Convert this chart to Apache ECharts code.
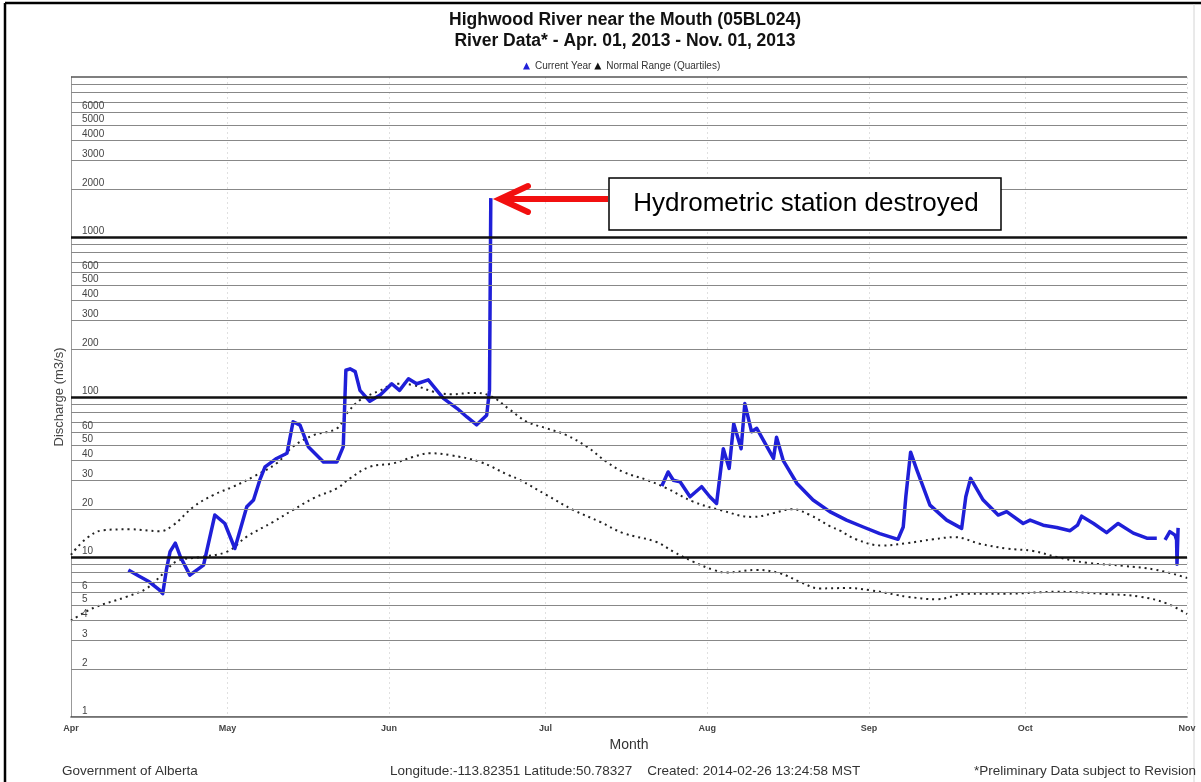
<!DOCTYPE html>
<html>
<head>
<meta charset="utf-8">
<script src="https://cdn.jsdelivr.net/npm/echarts@6/dist/echarts.min.js"></script>
<style>
  html, body { margin: 0; padding: 0; background: #fff; }
  #main { width: 1201px; height: 782px; }
</style>
</head>
<body>
<div id="main"></div>
<script>
// current year discharge (m3/s); '-' breaks the line
var currentYear = [
  ['2013-04-12', 8.3], ['2013-04-14', 7.6], ['2013-04-16', 7.0], ['2013-04-18', 6.2],
  ['2013-04-18 14:00', 5.9], ['2013-04-19 07:00', 8.3], ['2013-04-20', 10.8], ['2013-04-21', 12.2],
  ['2013-04-22', 10.0], ['2013-04-23 19:00', 7.7], ['2013-04-26 10:00', 8.9], ['2013-04-28 14:00', 18.3],
  ['2013-04-30 12:00', 16.2], ['2013-05-02 10:00', 11.3], ['2013-05-04 17:00', 20.6], ['2013-05-06', 22.7],
  ['2013-05-07 05:00', 30.3], ['2013-05-08 05:00', 36.6], ['2013-05-10 10:00', 41.3], ['2013-05-12 10:00', 44.5],
  ['2013-05-13 14:00', 70], ['2013-05-14 22:00', 66.7], ['2013-05-16 12:00', 48.9], ['2013-05-19 10:00', 39.3],
  ['2013-05-22', 39.3], ['2013-05-23 05:00', 49], ['2013-05-23 17:00', 147], ['2013-05-24 12:00', 150],
  ['2013-05-25 12:00', 144], ['2013-05-26 10:00', 110], ['2013-05-28 07:00', 94], ['2013-05-30 07:00', 103],
  ['2013-06-01 12:00', 121], ['2013-06-03', 110], ['2013-06-04 17:00', 130], ['2013-06-06 07:00', 121],
  ['2013-06-08 12:00', 128], ['2013-06-11 10:00', 98], ['2013-06-14', 85], ['2013-06-15 22:00', 75],
  ['2013-06-17 19:00', 67], ['2013-06-19 17:00', 77], ['2013-06-20 06:00', 110], ['2013-06-20 12:00', 1750],
  ['2013-07-05', '-'],
  ['2013-07-23 07:00', 27.8], ['2013-07-24 12:00', 34], ['2013-07-25 12:00', 30.2], ['2013-07-26 19:00', 29.5],
  ['2013-07-28 17:00', 23.8], ['2013-07-30 22:00', 27.5], ['2013-08-01 12:00', 23.8], ['2013-08-02 19:00', 21.6],
  ['2013-08-04 02:00', 47.5], ['2013-08-05 05:00', 35.8], ['2013-08-06 02:00', 68], ['2013-08-07 12:00', 47.5],
  ['2013-08-08 05:00', 91], ['2013-08-09 12:00', 60.7], ['2013-08-10 12:00', 63.7], ['2013-08-13 17:00', 41.3],
  ['2013-08-14 07:00', 56], ['2013-08-15 14:00', 40], ['2013-08-18 05:00', 28.8], ['2013-08-21 07:00', 22.7],
  ['2013-08-24 12:00', 19.2], ['2013-08-27 17:00', 17.0], ['2013-08-30 22:00', 15.4], ['2013-09-03 02:00', 14.0],
  ['2013-09-06 14:00', 12.9], ['2013-09-07 14:00', 15.4], ['2013-09-08 02:00', 23.8], ['2013-09-09', 45.2],
  ['2013-09-10 05:00', 34.9], ['2013-09-12 17:00', 21.1], ['2013-09-15 22:00', 17], ['2013-09-18 19:00', 15.1],
  ['2013-09-19 14:00', 23.8], ['2013-09-20 12:00', 31], ['2013-09-22 22:00', 22.7], ['2013-09-25 19:00', 18.3],
  ['2013-09-27 10:00', 19.2], ['2013-09-30 14:00', 16.2], ['2013-10-01 22:00', 17], ['2013-10-04 10:00', 15.8],
  ['2013-10-07', 15.3], ['2013-10-09 14:00', 14.6], ['2013-10-11', 15.8], ['2013-10-11 19:00', 18],
  ['2013-10-14 02:00', 16.2], ['2013-10-16 14:00', 14.2], ['2013-10-18 19:00', 16.2], ['2013-10-21 17:00', 14.1],
  ['2013-10-24 07:00', 13.1], ['2013-10-26 05:00', 13.1],
  ['2013-10-27 00:00', '-'],
  ['2013-10-27 19:00', 12.8], ['2013-10-28 17:00', 14.4], ['2013-10-29 17:00', 13.7], ['2013-10-30 00:00', 12.8],
  ['2013-10-30 02:00', 9.0], ['2013-10-30 07:00', 15.2]
];

// normal range, upper quartile
var upperQuartile = [
  ['2013-04-01', 10.3], ['2013-04-04', 13.1], ['2013-04-07 05:00', 14.7], ['2013-04-12 07:00', 14.9],
  ['2013-04-18', 14.5], ['2013-04-20 14:00', 15.8], ['2013-04-24 12:00', 20.6], ['2013-04-28 07:00', 24.4],
  ['2013-05-02 02:00', 27.5], ['2013-05-06', 31.8], ['2013-05-10 10:00', 38.5], ['2013-05-13 14:00', 49],
  ['2013-05-17 12:00', 57.7], ['2013-05-22', 63.7], ['2013-05-23 22:00', 79], ['2013-05-26 10:00', 95.7],
  ['2013-05-30 07:00', 110], ['2013-06-02 10:00', 121], ['2013-06-05 14:00', 118.7], ['2013-06-09 12:00', 108],
  ['2013-06-13', 104], ['2013-06-17', 106], ['2013-06-20 07:00', 102], ['2013-06-24 05:00', 83],
  ['2013-06-27 10:00', 70], ['2013-07-01 05:00', 63.7], ['2013-07-05', 57.7], ['2013-07-08 22:00', 48.9],
  ['2013-07-12 17:00', 39.3], ['2013-07-15 22:00', 34], ['2013-07-20 10:00', 30.3], ['2013-07-24 05:00', 26.9],
  ['2013-07-29 07:00', 22.2], ['2013-08-03 10:00', 19.7], ['2013-08-09 19:00', 17.8], ['2013-08-13 17:00', 18.8],
  ['2013-08-17 05:00', 19.9], ['2013-08-20 17:00', 18.3], ['2013-08-24 12:00', 15.6], ['2013-08-26 12:00', 14.6],
  ['2013-08-29 12:00', 12.9], ['2013-09-03 12:00', 11.8], ['2013-09-08 05:00', 12.2], ['2013-09-13 07:00', 12.9],
  ['2013-09-17 12:00', 13.3], ['2013-09-22 07:00', 12.1], ['2013-09-27 10:00', 11.3], ['2013-10-02 12:00', 10.9],
  ['2013-10-07', 10.0], ['2013-10-12 19:00', 9.2], ['2013-10-19 19:00', 8.8], ['2013-10-26 05:00', 8.3],
  ['2013-11-01', 7.4]
];

// normal range, lower quartile
var lowerQuartile = [
  ['2013-04-01', 4.0], ['2013-04-05 07:00', 4.8], ['2013-04-11 17:00', 5.65], ['2013-04-15 12:00', 6.36],
  ['2013-04-18 17:00', 7.9], ['2013-04-21 07:00', 9.4], ['2013-04-25 17:00', 10.0], ['2013-04-30 22:00', 10.8],
  ['2013-05-04 17:00', 13.4], ['2013-05-09 19:00', 16.6], ['2013-05-13 14:00', 19.7], ['2013-05-17 12:00', 23.3],
  ['2013-05-22', 26.9], ['2013-05-24 12:00', 31.0], ['2013-05-28 07:00', 36.6], ['2013-06-01 19:00', 38.5],
  ['2013-06-05 14:00', 42.2], ['2013-06-08 19:00', 44.5], ['2013-06-12 17:00', 43.3], ['2013-06-18 10:00', 39.3],
  ['2013-06-23 22:00', 32.5], ['2013-06-26 02:00', 30.3], ['2013-07-01 05:00', 24.4], ['2013-07-06 07:00', 19.7],
  ['2013-07-11 10:00', 16.6], ['2013-07-15 22:00', 14.1], ['2013-07-22 07:00', 12.4], ['2013-07-25 12:00', 10.8],
  ['2013-07-29 07:00', 9.35], ['2013-08-02 05:00', 8.3], ['2013-08-04 17:00', 8.0], ['2013-08-10 12:00', 8.3],
  ['2013-08-15', 7.9], ['2013-08-18 19:00', 7.0], ['2013-08-22 14:00', 6.36], ['2013-08-27 17:00', 6.4],
  ['2013-09-01 05:00', 6.2], ['2013-09-06 07:00', 5.8], ['2013-09-08 05:00', 5.65], ['2013-09-14', 5.44],
  ['2013-09-19 17:00', 5.9], ['2013-09-27 10:00', 5.9], ['2013-10-07', 6.06], ['2013-10-16 14:00', 5.87],
  ['2013-10-23', 5.65], ['2013-10-28 02:00', 5.13], ['2013-11-01', 4.4]
];

// y gridlines (log scale) and which of them carry a label
var minorGrid = [1, 2, 3, 4, 5, 6, 7, 8, 9, 20, 30, 40, 50, 60, 70, 80, 90,
  200, 300, 400, 500, 600, 700, 800, 900, 2000, 3000, 4000, 5000, 6000, 7000, 8000, 9000, 10000];
var majorGrid = [10, 100, 1000];
var tickLabels = [1, 2, 3, 4, 5, 6, 10, 20, 30, 40, 50, 60, 100, 200, 300, 400, 500, 600,
  1000, 2000, 3000, 4000, 5000, 6000];

var gridLines = [];
minorGrid.concat(majorGrid).forEach(function (v) {
  var major = majorGrid.indexOf(v) >= 0;
  var col = major ? '#111' : (v === 10000 ? '#555' : '#888');
  gridLines.push({
    yAxis: v,
    lineStyle: { color: col, width: major ? 2.5 : (v === 10000 ? 1.5 : 1.1), type: 'solid' },
    label: { show: tickLabels.indexOf(v) >= 0 }
  });
});

var chart = echarts.init(document.getElementById('main'));
var font = '"Liberation Sans", Arial, sans-serif';

chart.setOption({
  animation: false,
  textStyle: { fontFamily: font },
  title: {
    text: 'Highwood River near the Mouth (05BL024)\nRiver Data* - Apr. 01, 2013 - Nov. 01, 2013',
    left: 620,
    textAlign: 'center',
    top: 5,
    textStyle: { fontSize: 17.5, fontWeight: 'bold', color: '#111', lineHeight: 21, fontFamily: font }
  },
  legend: {
    top: 56,
    left: 518,
    itemWidth: 7,
    itemHeight: 7,
    itemGap: 3,
    icon: 'triangle',
    textStyle: { fontSize: 10, color: '#333', fontFamily: font },
    data: ['Current Year', 'Normal Range (Quartiles)']
  },
  grid: { left: 71, right: 14, top: 77, bottom: 65, containLabel: false },
  xAxis: {
    type: 'time',
    min: '2013-04-01',
    max: '2013-11-01',
    minInterval: 28 * 86400000,
    maxInterval: 31 * 86400000,
    name: 'Month',
    nameLocation: 'middle',
    nameGap: 21,
    nameTextStyle: { fontSize: 14, color: '#333' },
    axisLine: { lineStyle: { color: '#444', width: 1.5 } },
    axisTick: { show: false },
    axisLabel: { formatter: '{MMM}', fontSize: 9, fontWeight: 'bold', color: '#444', margin: 7, showMinLabel: true, showMaxLabel: true },
    splitLine: { show: true, lineStyle: { color: '#e0e0e0', type: [2, 3], width: 1 } }
  },
  yAxis: {
    type: 'log',
    logBase: 10,
    min: 1,
    max: 10000,
    name: 'Discharge (m3/s)',
    nameLocation: 'middle',
    nameGap: 5,
    nameTextStyle: { fontSize: 13, color: '#444' },
    axisLine: { show: true, lineStyle: { color: '#999', width: 1 } },
    axisTick: { show: false },
    axisLabel: { show: false },
    splitLine: { show: false }
  },
  graphic: [
    { type: 'line', shape: { x1: 5, y1: 3, x2: 5, y2: 782 }, style: { stroke: '#000', lineWidth: 2.5 } },
    { type: 'line', shape: { x1: 5, y1: 3, x2: 1201, y2: 3 }, style: { stroke: '#000', lineWidth: 2.5 } },
    { type: 'line', shape: { x1: 1194, y1: 4, x2: 1194, y2: 782 }, style: { stroke: '#d4d4d4', lineWidth: 1 } },
    // annotation
    { type: 'rect', shape: { x: 609, y: 178, width: 392, height: 52 }, style: { fill: '#fff', stroke: '#000', lineWidth: 1.5 }, z: 20 },
    { type: 'text', x: 806, y: 204, style: { text: 'Hydrometric station destroyed', fontSize: 26, fontFamily: font, fill: '#000', textAlign: 'center', textVerticalAlign: 'middle' }, z: 21 },
    { type: 'line', shape: { x1: 608, y1: 199, x2: 500, y2: 199 }, style: { stroke: '#f21010', lineWidth: 6 }, z: 20 },
    { type: 'polyline', shape: { points: [[528, 186], [500, 199], [528, 212]] }, style: { stroke: '#f21010', lineWidth: 6, lineCap: 'round', lineJoin: 'miter', fill: null }, z: 20 },
    // footer
    { type: 'text', x: 62, y: 771, style: { text: 'Government of Alberta', fontSize: 13.5, fontFamily: font, fill: '#333', textVerticalAlign: 'middle' } },
    { type: 'text', x: 390, y: 771, style: { text: 'Longitude:-113.82351 Latitude:50.78327    Created: 2014-02-26 13:24:58 MST', fontSize: 13.5, fontFamily: font, fill: '#333', textVerticalAlign: 'middle' } },
    { type: 'text', x: 1196, y: 771, style: { text: '*Preliminary Data subject to Revision', fontSize: 13.5, fontFamily: font, fill: '#333', textAlign: 'right', textVerticalAlign: 'middle' } }
  ],
  series: [
    {
      name: 'grid',
      type: 'line',
      data: [],
      z: 1,
      silent: true,
      markLine: {
        silent: true,
        symbol: ['none', 'none'],
        animation: false,
        label: {
          position: 'insideStartTop',
          distance: [11, 1],
          fontSize: 10,
          color: '#444',
          fontFamily: font,
          formatter: function (p) { return String(p.value); }
        },
        emphasis: { disabled: true },
        data: gridLines
      }
    },
    {
      name: 'Normal Range (Quartiles)',
      type: 'line',
      data: upperQuartile,
      smooth: 0.4,
      showSymbol: false,
      z: 3,
      itemStyle: { color: '#111' },
      lineStyle: { color: '#222', width: 2, type: [2, 4] }
    },
    {
      name: 'Normal Range (Quartiles)',
      type: 'line',
      data: lowerQuartile,
      smooth: 0.4,
      showSymbol: false,
      z: 3,
      itemStyle: { color: '#111' },
      lineStyle: { color: '#222', width: 2, type: [2, 4] }
    },
    {
      name: 'Current Year',
      type: 'line',
      data: currentYear,
      showSymbol: false,
      connectNulls: false,
      z: 4,
      itemStyle: { color: '#1f1fd8' },
      lineStyle: { color: '#1f1fd8', width: 3.5, join: 'round' }
    }
  ]
});
</script>
</body>
</html>
